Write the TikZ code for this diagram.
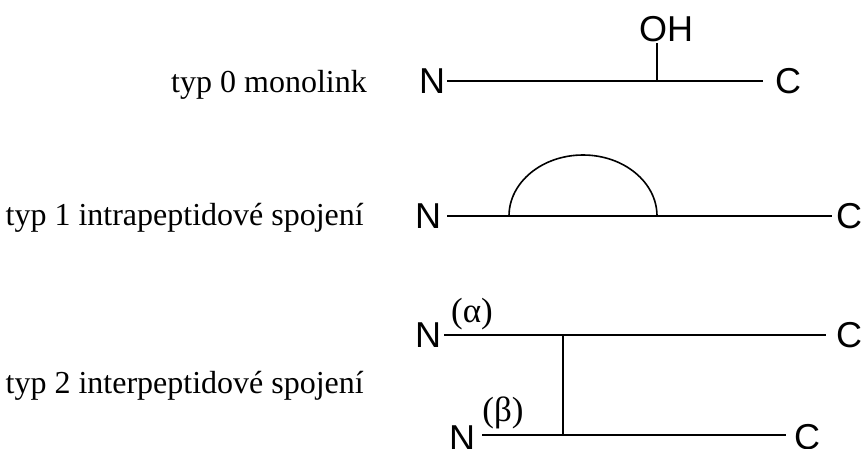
\documentclass[tikz,border=0pt]{standalone}
\usepackage{fontspec}
\setmainfont{Liberation Serif}
\newfontfamily\arialfont{Liberation Sans}
\begin{document}
\begin{tikzpicture}[x=1pt,y=-1pt,
  chem/.style={inner sep=0pt,font=\arialfont\fontsize{36}{40}\selectfont},
  lbl/.style={inner sep=0pt,anchor=base east,font=\fontsize{32}{36}\selectfont},
  greek/.style={inner sep=0pt,font=\fontsize{35}{40}\selectfont},
  bond/.style={line width=1.6pt}]
\useasboundingbox (0,0) rectangle (862,448);
% labels
\node[lbl] (t0) at (367,92) {typ 0 monolink};
\node[lbl] (t1) at (364,225) {typ 1 intrapeptidové spojení};
\node[lbl] (t2) at (364,393) {typ 2 interpeptidové spojení};
% row 0
\node[chem] (n0) at (432,81) {N};
\node[chem] (c0) at (788,81) {C};
\node[chem] (oh) at (666,29) {OH};
\coordinate (a0) at (447,81);
\coordinate (b0) at (763,81);
\coordinate (s0) at (657,81);
\coordinate (s0t) at (657,43);
\draw[bond] (a0) -- (b0);
\draw[bond] (s0) -- (s0t);
% row 1
\node[chem] (n1) at (428,216) {N};
\node[chem] (c1) at (849,216) {C};
\coordinate (a1) at (447,216);
\coordinate (b1) at (832,216);
\coordinate (l1) at (509,216);
\draw[bond] (a1) -- (b1);
\draw[bond] (l1) arc[start angle=180,end angle=0,x radius=74pt,y radius=61pt];
% row 2
\node[chem] (n2) at (428,335) {N};
\node[chem] (c2) at (849,335) {C};
\node[greek] (al) at (472,314) {(α)};
\coordinate (a2) at (444,335);
\coordinate (b2) at (826,335);
\draw[bond] (a2) -- (b2);
\node[chem] (n3) at (462,438) {N};
\node[chem] (c3) at (807,437) {C};
\node[greek] (be) at (503,413) {(β)};
\coordinate (a3) at (482,435);
\coordinate (b3) at (786,435);
\draw[bond] (a3) -- (b3);
\coordinate (v2) at (563,335);
\coordinate (v3) at (563,435);
\draw[bond] (v2) -- (v3);
\end{tikzpicture}
\end{document}
